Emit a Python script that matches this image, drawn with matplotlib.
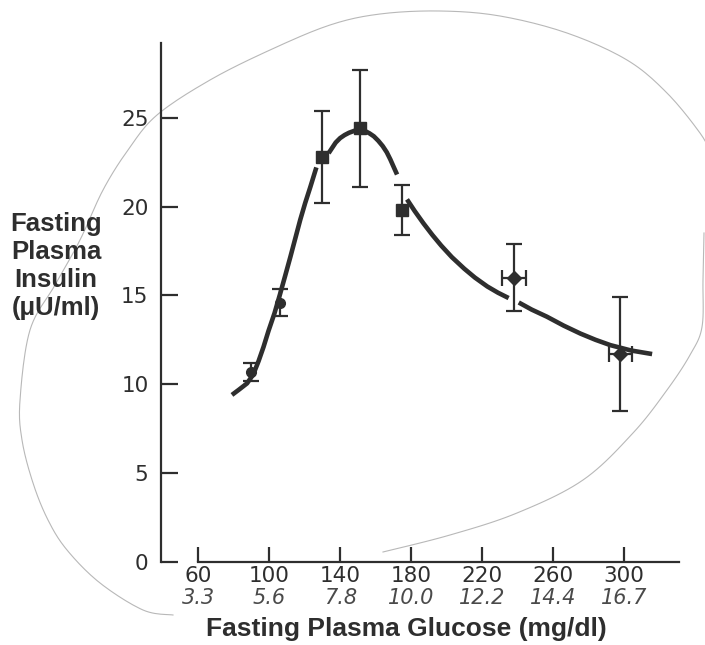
import matplotlib
matplotlib.use("Agg")
import matplotlib.pyplot as plt
import numpy as np

# ---- data ----
glucose_circle = [90, 106]
insulin_circle = [10.7, 14.6]
yerr_circle = [0.5, 0.75]

glucose_square = [130, 151, 175]
insulin_square = [22.8, 24.4, 19.8]
yerr_square = [2.6, 3.3, 1.4]

glucose_diamond = [238, 298]
insulin_diamond = [16.0, 11.7]
yerr_diamond = [1.9, 3.2]
xerr_diamond = [6.9, 6.6]

# fitted (hand-drawn) curve, read in segments
curve_a_x = [79, 83, 87.5, 91, 94, 96.8, 99.6, 103, 106.2, 109, 111.9, 114.7, 117.5, 120.3, 123.2, 126.6]
curve_a_y = [9.4, 9.7, 10.05, 10.55, 11.3, 12.1, 13.0, 14.0, 15.1, 16.1, 17.15, 18.2, 19.25, 20.2, 21.1, 22.2]
curve_b_x = [133.5, 135.5, 137.5, 140, 142.5, 145, 148, 151.4, 154, 156.5, 159, 161.5, 164, 166.3, 168.3, 170.3, 172.1]
curve_b_y = [23.0, 23.3, 23.6, 23.85, 24.02, 24.15, 24.26, 24.3, 24.25, 24.12, 23.95, 23.7, 23.4, 23.05, 22.65, 22.2, 21.8]
curve_c_x = [177.7, 182, 187, 192, 197, 203, 210, 216, 223, 229, 235]
curve_c_y = [20.4, 19.75, 19.05, 18.4, 17.8, 17.15, 16.5, 16.0, 15.5, 15.15, 14.85]
curve_d_x = [240.7, 248, 256.6, 266, 275.5, 284, 292.4, 304, 315.9]
curve_d_y = [14.6, 14.2, 13.8, 13.3, 12.85, 12.5, 12.2, 11.9, 11.7]

x_ticks = [60, 100, 140, 180, 220, 260, 300]
y_ticks = [0, 5, 10, 15, 20, 25]
mmol_labels = ["3.3", "5.6", "7.8", "10.0", "12.2", "14.4", "16.7"]

# faint pencil loop drawn on the scanned page (figure pixels)
pencil_loop_x = [383, 450, 517, 583, 633, 667, 690, 702, 703, 704]
pencil_loop_y = [552, 535, 513, 480, 433, 390, 355, 327, 280, 233]
pencil_top_x = [712, 700, 667, 627, 567, 500, 440, 380, 330, 270, 210, 157, 128, 103,
                80, 55, 30, 20, 22, 33, 48, 67, 100, 143, 173]
pencil_top_y = [155, 133, 93, 60, 33, 16, 11, 14, 25, 50, 80, 115, 150, 190,
                240, 285, 330, 400, 440, 483, 520, 550, 583, 610, 615]

ink = "#2e2e2e"
W, H = 705, 645


def catmull_rom(xs, ys, n=12):
    p = np.column_stack([xs, ys]).astype(float)
    p = np.vstack([p[0], p, p[-1]])
    out = []
    t = np.linspace(0, 1, n, endpoint=False)[:, None]
    for i in range(1, len(p) - 2):
        p0, p1, p2, p3 = p[i - 1], p[i], p[i + 1], p[i + 2]
        seg = 0.5 * ((2 * p1) + (-p0 + p2) * t + (2 * p0 - 5 * p1 + 4 * p2 - p3) * t ** 2
                     + (-p0 + 3 * p1 - 3 * p2 + p3) * t ** 3)
        out.append(seg)
    out.append(p[-2][None, :])
    out = np.vstack(out)
    return out[:, 0], out[:, 1]


fig = plt.figure(figsize=(7.05, 6.45), dpi=100)

# pencil annotation (behind everything)
for px, py in [(pencil_loop_x, pencil_loop_y), (pencil_top_x, pencil_top_y)]:
    sx, sy = catmull_rom(px, py)
    fig.add_artist(plt.Line2D(sx / W, 1 - sy / H, color="#b8b8b8", lw=0.8, zorder=0))

ax = fig.add_axes([161 / W, (H - 562) / H, (686 - 161) / W, (562 - 43) / H])
ax.patch.set_alpha(0)
ax.set_xlim(39, 335)
ax.set_ylim(0, 29.2)

for cx, cy in [(curve_a_x, curve_a_y), (curve_b_x, curve_b_y),
               (curve_c_x, curve_c_y), (curve_d_x, curve_d_y)]:
    ax.plot(cx, cy, color=ink, lw=3.3, solid_capstyle="butt",
            solid_joinstyle="round", zorder=2)

eb_kw = dict(ecolor=ink, elinewidth=1.6, capsize=6, capthick=1.6, ls="none", zorder=3)
ax.errorbar(glucose_circle, insulin_circle, yerr=yerr_circle, fmt="o",
            mfc=ink, mec=ink, ms=7, **eb_kw)
ax.errorbar(glucose_square, insulin_square, yerr=yerr_square, fmt="s",
            mfc=ink, mec=ink, ms=9, **eb_kw)
ax.errorbar(glucose_diamond, insulin_diamond, yerr=yerr_diamond, xerr=xerr_diamond,
            fmt="D", mfc=ink, mec=ink, ms=7, **eb_kw)

for s in ["top", "right"]:
    ax.spines[s].set_visible(False)
ax.spines["left"].set_color(ink)
ax.spines["bottom"].set_color(ink)
ax.spines["left"].set_linewidth(1.6)
ax.spines["bottom"].set_linewidth(1.6)
ax.spines["bottom"].set_bounds(60, 331)

ax.set_xticks(x_ticks)
ax.set_yticks(y_ticks)
ax.tick_params(axis="y", direction="in", length=12, width=1.6, color=ink,
               labelsize=15.5, labelcolor=ink, pad=9)
ax.tick_params(axis="x", direction="in", length=11, width=1.6, color=ink,
               labelsize=15.5, labelcolor=ink, pad=3)
for lab in ax.get_xticklabels() + ax.get_yticklabels():
    lab.set_family("DejaVu Sans")

# handwritten mmol/L values
for xv, lab in zip(x_ticks, mmol_labels):
    ax.text(xv, -2.05, lab, ha="center", va="center", fontsize=15,
            color="#4a4a4a", style="italic", family="DejaVu Sans",
            transform=ax.transData, clip_on=False)

fig.text(406 / W, 1 - 629 / H, "Fasting Plasma Glucose (mg/dl)", ha="center",
         va="center", fontsize=19, fontweight="bold", color=ink,
         family="Liberation Sans")
fig.text(56 / W, 1 - 266 / H, "Fasting\nPlasma\nInsulin\n(\u03bcU/ml)", ha="center",
         va="center", fontsize=18.5, fontweight="bold", color=ink,
         family="Liberation Sans", linespacing=1.2)

fig.savefig("out.png", dpi=100)
